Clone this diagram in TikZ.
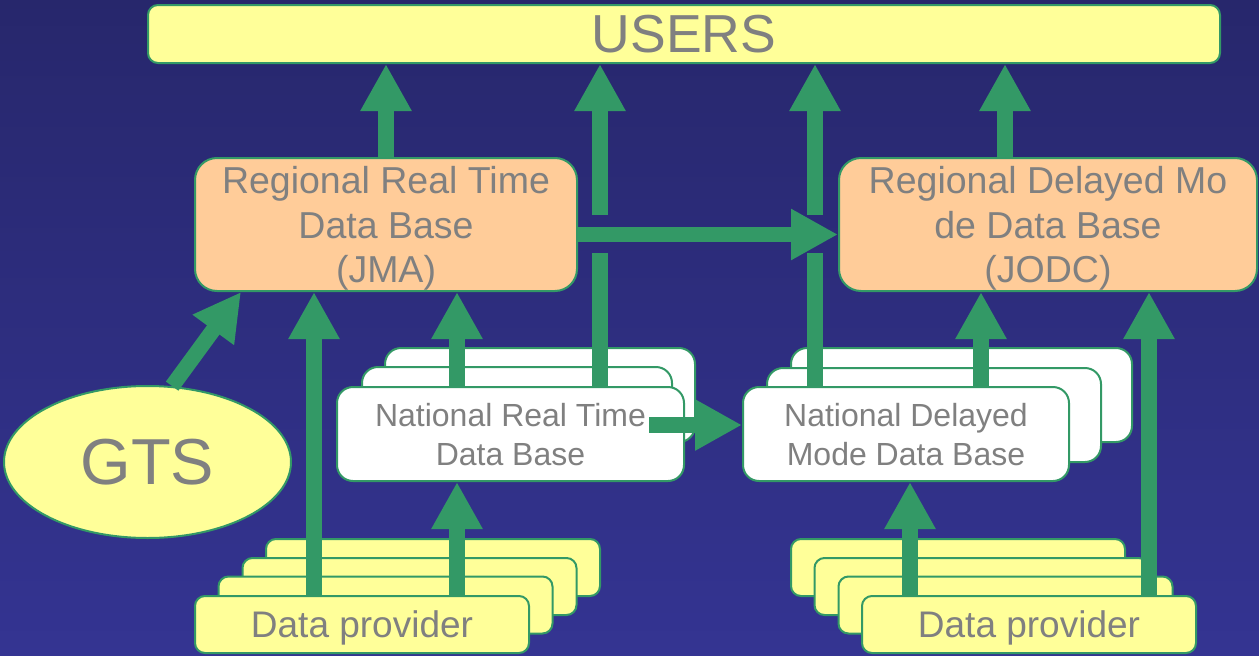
\documentclass[tikz,border=0pt]{standalone}
\usepackage{fontspec}
\setmainfont{Liberation Sans}
\usetikzlibrary{arrows.meta,shapes.geometric,positioning}

\definecolor{flowgreen}{RGB}{51,153,102}
\definecolor{paleyellow}{RGB}{255,255,153}
\definecolor{peach}{RGB}{255,204,153}
\definecolor{labelgray}{RGB}{128,128,128}
\definecolor{bgtop}{RGB}{39,39,108}
\definecolor{bgbottom}{RGB}{52,52,146}

\begin{document}
\begin{tikzpicture}[
x=1pt, y=-1pt,
box/.style={
    draw=flowgreen,
    line width=2pt,
    text=labelgray,
    align=center,
    inner sep=0pt
    },
userbox/.style={box, fill=paleyellow, rounded corners=10pt,
    minimum width=1072pt, minimum height=58pt,
    font=\fontsize{53.5}{58}\selectfont},
regbox/.style={box, fill=peach, rounded corners=22pt,
    minimum height=133pt, text depth=-3pt,
    font=\fontsize{37.5}{44.5}\selectfont},
natbox/.style={box, fill=white, rounded corners=16pt,
    minimum height=94pt, text depth=-4pt,
    font=\fontsize{32}{39}\selectfont},
provbox/.style={box, fill=paleyellow, rounded corners=10pt,
    minimum width=334pt, minimum height=57pt, text depth=-2pt,
    font=\fontsize{37}{42}\selectfont},
bar/.style={draw=flowgreen, line width=15.5pt},
flow/.style={bar, -{Triangle[length=47pt,width=48pt]}}
]

\fill[top color=bgtop, bottom color=bgbottom] (0,0) rectangle (1259,656);

% lanes of the vertical arrows, and the break round the JMA -> JODC arrow
\coordinate (gapt) at (0,215);
\coordinate (gapb) at (0,253);
\coordinate (upa) at (600,0);
\coordinate (upb) at (815,0);
\coordinate (upc) at (1005,0);
\coordinate (ina) at (314,0);
\coordinate (inb) at (457,0);
\coordinate (inc) at (910,0);
\coordinate (ind) at (981,0);
\coordinate (ine) at (1149,0);
\coordinate (gtsin) at (241,0);

\node[userbox] (usersbox) at (684,34) {USERS};
\node[regbox, minimum width=382pt] (rrtbox) at (386,224.5) {Regional Real Time\\Data Base\\(JMA)};
\node[regbox, minimum width=418pt] (rdmbox) at (1048,224.5) {Regional Delayed Mo\\de Data Base\\(JODC)};
\node[box, ellipse, fill=paleyellow, minimum width=287pt, minimum height=152pt,
    font=\fontsize{65}{70}\selectfont] (gtsnode) at (147.5,462) {GTS};

% national data bases, back copies first
\node[natbox, minimum width=310pt] (nrtboxc) at (540,395) {};
\node[natbox, minimum width=310pt] (nrtboxb) at (517,414) {};
\node[natbox, minimum width=347pt] (nrtbox) at (510.5,434) {National Real Time\\Data Base};
\node[natbox, minimum width=341pt] (ndmboxc) at (961.5,395) {};
\node[natbox, minimum width=334pt] (ndmboxb) at (934,415) {};
\node[natbox, minimum width=326pt] (ndmbox) at (906,434) {National Delayed\\Mode Data Base};

% data providers
\node[provbox] (dplboxd) at (433,567.5) {};
\node[provbox] (dplboxc) at (409.5,586.5) {};
\node[provbox] (dplboxb) at (385.5,605) {};
\node[provbox] (dplbox) at (362,624.5) {Data provider};
\node[provbox] (dprboxd) at (958,567.5) {};
\node[provbox] (dprboxc) at (981.5,586.5) {};
\node[provbox] (dprboxb) at (1005.5,605) {};
\node[provbox] (dprbox) at (1029,624.5) {Data provider};

% to the users
\draw[flow] (rrtbox.north) -- (rrtbox.north |- usersbox.south);
\draw[bar] (nrtbox.north -| upa) -- (gapb -| upa);
\draw[flow] (gapt -| upa) -- (usersbox.south -| upa);
\draw[bar] (ndmbox.north -| upb) -- (gapb -| upb);
\draw[flow] (gapt -| upb) -- (usersbox.south -| upb);
\draw[flow] (rdmbox.north -| upc) -- (usersbox.south -| upc);

% between the data bases
\draw[flow] ([yshift=-10pt]rrtbox.east) -- ([yshift=-10pt]rdmbox.west);
\draw[flow] ([shift={(-36pt,9pt)}]nrtbox.east) -- ([yshift=9pt]ndmbox.west);
\draw[flow] (nrtbox.north -| inb) -- (rrtbox.south -| inb);
\draw[flow] (ndmbox.north -| ind) -- (rdmbox.south -| ind);

% inputs
\draw[flow] (gtsnode.72) -- (rrtbox.south -| gtsin);
\draw[flow] (dplbox.north -| ina) -- (rrtbox.south -| ina);
\draw[flow] (dplbox.north -| inb) -- (nrtbox.south -| inb);
\draw[flow] (dprbox.north -| inc) -- (ndmbox.south -| inc);
\draw[flow] (dprbox.north -| ine) -- (rdmbox.south -| ine);

\end{tikzpicture}
\end{document}
